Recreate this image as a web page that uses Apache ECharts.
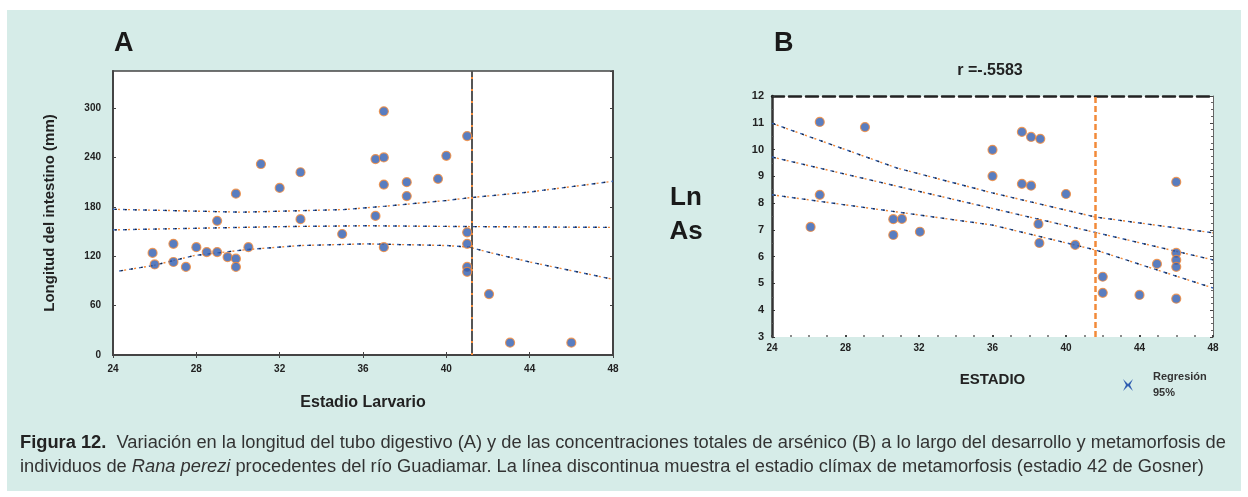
<!DOCTYPE html>
<html><head><meta charset="utf-8">
<script src="https://cdn.jsdelivr.net/npm/echarts@6/dist/echarts.min.js"></script>
<style>html,body{margin:0;padding:0;background:#fff}#c{width:1248px;height:497px}</style>
</head><body><div id="c"></div>
<script>
// ---------- Panel A data ----------
const aStage = [25.9,26.0,26.9,26.9,27.5,28.0,28.5,29.0,29.0,29.5,29.9,29.9,29.9,30.5,31.1,32.0,33.0,33.0,35.0,36.6,36.6,37.0,37.0,37.0,37.0,38.1,38.1,39.6,40.0,41.0,41.0,41.0,41.0,41.0,42.05,43.06,46.0];
const aLength = [124,110,135,113,107,131,125,125,163,119,117,107,196,131,232,203,222,165,147,169,238,296,240,207,131,210,193,214,242,266,149,135,107,101,74,15,15];
const aUpper = [[24,177],[30.2,173.5],[35.1,176.7],[37.1,180.8],[40,187.7],[41.1,191],[44,198],[48,211]];
const aFit = [[24,152],[32.2,156],[36.1,157],[41.1,156],[48,155]];
const aLower = [[24.3,102],[25.9,108.6],[27.9,120.8],[30.4,128],[33,133],[36.1,135],[40,133],[41.1,131],[42,125],[44,113],[48,92]];
const aClimax = 41.2;
const aXTicks = {min:24, max:48, step:4};
const aYTicks = {min:0, max:345, step:60};

// ---------- Panel B data ----------
const bStage = [26.6,29.06,36.0,36.0,37.6,38.1,38.6,37.6,38.1,40.0,46.0,26.6,26.1,30.6,30.6,31.07,32.05,38.5,38.55,40.5,42.0,42.0,44.0,44.95,46.0,46.0,46.0,46.0];
const bLnAs = [11.03,10.84,9.99,9.01,10.66,10.47,10.40,8.72,8.65,8.34,8.79,8.31,7.11,6.81,7.40,7.41,6.93,7.22,6.51,6.44,5.25,4.65,4.57,5.73,6.14,5.88,5.62,4.43];
const bUpper = [[24,10.98],[30.8,9.31],[36,8.38],[41.6,7.48],[48,6.89]];
const bFit = [[24,9.72],[48,5.88]];
const bLower = [[24,8.31],[30.8,7.67],[36,7.18],[41.6,6.25],[48,4.83]];
const bClimax = 41.6;
const bXTicks = {min:24, max:48, step:4};
const bYTicks = {min:3, max:12, step:1};

const titleB = 'r =-.5583';
const caption1 = 'Variación en la longitud del tubo digestivo (A) y de las concentraciones totales de arsénico (B) a lo largo del desarrollo y metamorfosis de';
const caption2a = 'individuos de ';
const caption2b = 'Rana perezi';
const caption2c = ' procedentes del río Guadiamar. La línea discontinua muestra el estadio clímax de metamorfosis (estadio 42 de Gosner)';

// ---------- styling ----------
const BLUE = '#2f5db0', ORANGE = '#f28a3a';
const FONT = 'Liberation Sans, Arial';
const CAP = 18.3;
const zip = (xs, ys) => xs.map((x, i) => [x, ys[i]]);

function dashed(name, data, xi, yi) {
  return [
    {name: name, type:'line', data:data, xAxisIndex:xi, yAxisIndex:yi, symbol:'none', silent:true, z:3,
      itemStyle:{color:BLUE}, lineStyle:{color:BLUE, width:1.4, type:[4,6], dashOffset:0}},
    {type:'line', data:data, xAxisIndex:xi, yAxisIndex:yi, symbol:'none', silent:true, z:3,
      lineStyle:{color:ORANGE, width:1.4, type:[2,8], dashOffset:5}},
    {type:'line', data:data, xAxisIndex:xi, yAxisIndex:yi, symbol:'none', silent:true, z:3,
      lineStyle:{color:'#222', width:1.2, type:[1.5,8.5], dashOffset:8}}
  ];
}
function scatter(data, xi, yi) {
  return {type:'scatter', data:data, xAxisIndex:xi, yAxisIndex:yi, symbol:'circle', symbolSize:9, z:5,
    itemStyle:{color:BLUE, borderColor:ORANGE, borderWidth:1.2}};
}
const lbl = {color:'#222', fontWeight:'bold', fontSize:10, fontFamily:FONT};
const tickIn = {inside:true, length:3, lineStyle:{color:'#444'}};

const chart = echarts.init(document.getElementById('c'), null, {renderer:'canvas'});
chart.setOption({
  backgroundColor:'#ffffff',
  animation:false,
  graphic:[
    {type:'rect', z:-10, shape:{x:7, y:10, width:1234, height:481}, style:{fill:'#d6ece8'}},
    {type:'text', x:114, y:44, style:{text:'A', font:'bold 27px ' + FONT, fill:'#1a1a1a', verticalAlign:'middle'}},
    {type:'text', x:774, y:44, style:{text:'B', font:'bold 27px ' + FONT, fill:'#1a1a1a', verticalAlign:'middle'}},
    {type:'text', x:686, y:215, style:{text:'Ln\nAs', font:'bold 26px ' + FONT, lineHeight:34, fill:'#1a1a1a', align:'center', verticalAlign:'middle'}},
    {type:'text', x:990, y:71, style:{text:titleB, font:'bold 16px ' + FONT, fill:'#222', align:'center', verticalAlign:'middle'}},
    {type:'text', x:20, y:443, style:{text:'{b|Figura 12.}  ' + caption1, fill:'#333', verticalAlign:'middle',
      font:CAP + 'px ' + FONT, rich:{b:{fontWeight:'bold', fontSize:CAP, fontFamily:FONT, fill:'#222'}}}},
    {type:'text', x:20, y:467, style:{text:caption2a + '{i|' + caption2b + '}' + caption2c, fill:'#333', verticalAlign:'middle',
      font:CAP + 'px ' + FONT, rich:{i:{fontStyle:'italic', fontSize:CAP, fontFamily:FONT, fill:'#333'}}}}
  ],
  legend:{show:true, left:1118, top:364, orient:'vertical', itemWidth:20, itemHeight:12,
    data:[{name:'Regresión', icon:'path://M0,0 L10,10 L20,0 L14,12 L20,24 L10,14 L0,24 L6,12 Z'}],
    formatter:function(){return 'Regresión\n95%';},
    textStyle:{fontSize:11, fontWeight:'bold', color:'#333', lineHeight:16, fontFamily:FONT, padding:[0,0,0,10]}},
  grid:[
    {left:113, top:71, width:500, height:284, show:true, backgroundColor:'#fff', borderColor:'#444', borderWidth:1.5},
    {left:772, top:96, width:441, height:241, show:true, backgroundColor:'#fff', borderWidth:0}
  ],
  xAxis:[
    {gridIndex:0, type:'value', min:aXTicks.min, max:aXTicks.max, interval:aXTicks.step, position:'bottom',
      axisLine:{lineStyle:{color:'#444', width:2}}, axisTick:tickIn, splitLine:{show:false},
      axisLabel:Object.assign({margin:9}, lbl),
      name:'Estadio Larvario', nameLocation:'middle', nameGap:40,
      nameTextStyle:{fontWeight:'bold', fontSize:16, color:'#222', fontFamily:FONT}},
    {gridIndex:0, type:'value', min:aXTicks.min, max:aXTicks.max, interval:aXTicks.step, position:'top',
      axisLine:{lineStyle:{color:'#444', width:2}}, axisTick:tickIn, axisLabel:{show:false}, splitLine:{show:false}},
    {gridIndex:1, type:'value', min:bXTicks.min, max:bXTicks.max, interval:bXTicks.step, position:'bottom',
      axisLine:{show:false}, axisTick:{inside:true, length:2, lineStyle:{color:'#444', width:2}}, splitLine:{show:false},
      minorTick:{show:true, splitNumber:4, length:2, lineStyle:{color:'#666', width:1.5}},
      axisLabel:Object.assign({margin:6}, lbl),
      name:'ESTADIO', nameLocation:'middle', nameGap:35,
      nameTextStyle:{fontWeight:'bold', fontSize:15, color:'#222', fontFamily:FONT}},
    {gridIndex:1, type:'value', min:bXTicks.min, max:bXTicks.max, interval:bXTicks.step, position:'top',
      axisLine:{lineStyle:{color:'#222', width:2.5, type:[12,5]}}, axisTick:{show:false}, axisLabel:{show:false}, splitLine:{show:false}}
  ],
  yAxis:[
    {gridIndex:0, type:'value', min:aYTicks.min, max:aYTicks.max, interval:aYTicks.step, position:'left',
      axisLine:{lineStyle:{color:'#444', width:2}}, axisTick:tickIn, splitLine:{show:false},
      axisLabel:Object.assign({margin:12, showMaxLabel:false}, lbl),
      name:'Longitud del intestino (mm)', nameLocation:'middle', nameGap:56, nameRotate:90,
      nameTextStyle:{fontWeight:'bold', fontSize:15, color:'#222', fontFamily:FONT}},
    {gridIndex:0, type:'value', min:aYTicks.min, max:aYTicks.max, interval:aYTicks.step, position:'right',
      axisLine:{lineStyle:{color:'#444', width:2}}, axisTick:tickIn, axisLabel:{show:false}, splitLine:{show:false}},
    {gridIndex:1, type:'value', min:bYTicks.min, max:bYTicks.max, interval:bYTicks.step, position:'left',
      axisLine:{lineStyle:{color:'#333', width:2.5}}, axisTick:{inside:true, length:3, lineStyle:{color:'#333'}},
      minorTick:{show:true, splitNumber:2, length:2, lineStyle:{color:'#555'}}, splitLine:{show:false},
      axisLabel:Object.assign({margin:8}, lbl, {fontSize:11})},
    {gridIndex:1, type:'value', min:bYTicks.min, max:bYTicks.max, interval:bYTicks.step, position:'right',
      axisLine:{lineStyle:{color:'#666', width:1}}, axisTick:{inside:true, length:3, lineStyle:{color:'#444'}},
      minorTick:{show:true, splitNumber:4, length:2, lineStyle:{color:'#666'}}, axisLabel:{show:false}, splitLine:{show:false}}
  ],
  series:[].concat(
    dashed('bandA', aUpper, 0, 0), dashed('fitA', aFit, 0, 0), dashed('bandA', aLower, 0, 0),
    [{type:'line', data:[], xAxisIndex:0, yAxisIndex:0, silent:true, z:4,
      markLine:{symbol:'none', silent:true, label:{show:false}, data:[{xAxis:aClimax}], lineStyle:{color:'#555', width:2, type:'solid'}}},
     {type:'line', data:[], xAxisIndex:0, yAxisIndex:0, silent:true, z:4,
      markLine:{symbol:'none', silent:true, label:{show:false}, data:[{xAxis:aClimax}], lineStyle:{color:ORANGE, width:2, type:[2,10]}}}],
    [scatter(zip(aStage, aLength), 0, 0)],
    dashed('bandB', bUpper, 2, 2), dashed('Regresión', bFit, 2, 2), dashed('bandB', bLower, 2, 2),
    [{type:'line', data:[], xAxisIndex:2, yAxisIndex:2, silent:true, z:4,
      markLine:{symbol:'none', silent:true, label:{show:false}, data:[{xAxis:bClimax}], lineStyle:{color:ORANGE, width:2.5, type:[6,3]}}}],
    [scatter(zip(bStage, bLnAs), 2, 2)]
  )
});
</script></body></html>
